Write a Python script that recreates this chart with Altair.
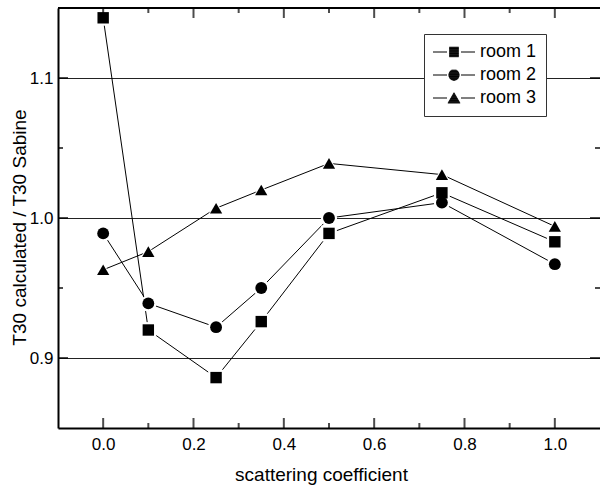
import altair as alt
import pandas as pd
import math

# ---- data ----
scattering = [0.0, 0.1, 0.25, 0.35, 0.5, 0.75, 1.0]
room1 = [1.143, 0.920, 0.886, 0.926, 0.989, 1.018, 0.983]
room2 = [0.989, 0.939, 0.922, 0.950, 1.000, 1.011, 0.967]
room3 = [0.963, 0.976, 1.007, 1.020, 1.039, 1.031, 0.994]
rooms = ["room 1", "room 2", "room 3"]

x_major = [0.0, 0.2, 0.4, 0.6, 0.8, 1.0]
x_minor = [0.1, 0.3, 0.5, 0.7, 0.9]
y_major = [0.9, 1.0, 1.1]
y_minor = [0.95, 1.05]

X_DOM = [-0.1, 1.1]
Y_DOM = [0.85, 1.15]

rows = []
for name, vals in zip(rooms, [room1, room2, room3]):
    for xv, yv in zip(scattering, vals):
        rows.append({"s": xv, "ratio": yv, "room": name})
df = pd.DataFrame(rows)

FONT = "Liberation Sans"

xscale = alt.Scale(domain=X_DOM, nice=False, zero=False)
yscale = alt.Scale(domain=Y_DOM, nice=False, zero=False)

x_enc = alt.X("s:Q", scale=xscale, axis=alt.Axis(
    values=x_major, format=".1f", grid=False, ticks=False,
    domainColor="black", domainWidth=2,
    labelFont=FONT, labelFontSize=17, labelColor="black", labelPadding=8,
    title="scattering coefficient", titleFont=FONT, titleFontSize=19,
    titleFontWeight="normal", titleColor="black",
    titleX=263, titleY=52, titleBaseline="alphabetic", titleAnchor="start", titleAlign="center"))
y_enc = alt.Y("ratio:Q", scale=yscale, axis=alt.Axis(
    values=y_major, format=".1f", grid=True, gridColor="#222222", gridWidth=1,
    ticks=False, domainColor="black", domainWidth=2,
    labelFont=FONT, labelFontSize=17, labelColor="black", labelPadding=5,
    title="T30 calculated / T30 Sabine", titleFont=FONT, titleFontSize=19,
    titleFontWeight="normal", titleColor="black",
    titleX=-39, titleY=219, titleAngle=-90, titleBaseline="middle", titleAlign="center"))

shape_scale = alt.Scale(domain=rooms, range=["square", "circle", "triangle-up"])
size_scale = alt.Scale(domain=rooms, range=[130, 150, 180])
halo_scale = alt.Scale(domain=rooms, range=[250, 280, 330])

lines = alt.Chart(df).mark_line(color="black", strokeWidth=1).encode(
    x=x_enc, y=y_enc, detail="room:N")

halo = alt.Chart(df).mark_point(filled=True, color="white", opacity=1).encode(
    x="s:Q", y="ratio:Q",
    shape=alt.Shape("room:N", scale=shape_scale, legend=None),
    size=alt.Size("room:N", scale=halo_scale, legend=None))

points = alt.Chart(df).mark_point(filled=True, color="black", opacity=1).encode(
    x="s:Q", y="ratio:Q",
    shape=alt.Shape("room:N", scale=shape_scale, legend=None),
    size=alt.Size("room:N", scale=size_scale, legend=None))

# top frame line at the top of the y domain
top_frame = alt.Chart(pd.DataFrame({"v": [Y_DOM[1]]})).mark_rule(
    color="black", strokeWidth=2).encode(y="v:Q")

# inward ticks
def xticks(vals, length, at):
    d = pd.DataFrame({"v": vals})
    off = -length / 2 if at == Y_DOM[0] else length / 2
    return alt.Chart(d).mark_tick(orient="vertical", size=length, thickness=2, color="black").encode(
        x="v:Q", y=alt.datum(at), yOffset=alt.value(off))

def yticks(vals, length, at):
    d = pd.DataFrame({"v": vals})
    off = length / 2 if at == X_DOM[0] else -length / 2
    return alt.Chart(d).mark_tick(orient="horizontal", size=length, thickness=2, color="black").encode(
        y="v:Q", x=alt.datum(at), xOffset=alt.value(off))

ticks = [
    xticks(x_major, 10, Y_DOM[0]), xticks(x_minor, 5, Y_DOM[0]),
    xticks(x_major, 10, Y_DOM[1]), xticks(x_minor, 5, Y_DOM[1]),
    yticks(y_major, 10, X_DOM[0]), yticks(y_minor, 5, X_DOM[0]),
    yticks(y_major, 10, X_DOM[1]), yticks(y_minor, 5, X_DOM[1]),
]

# legend symbols: line - marker - line, markers drawn solid with dense strokes
# (symbol unit = 7 px)
LINE = "M-3,0H-1M1,0H3"

def hatch(half_width_at, y0, y1, step=0.09):
    parts = []
    y = y0
    while y <= y1 + 1e-9:
        w = half_width_at(y)
        if w > 0.02:
            parts.append(f"M{-w:.3f},{y:.3f}H{w:.3f}")
        y += step
    return "".join(parts)

sq = hatch(lambda y: 0.68, -0.68, 0.68)
ci = hatch(lambda y: math.sqrt(max(0.0, 0.78 ** 2 - y ** 2)), -0.78, 0.78)
tr = hatch(lambda y: 0.9 * (y + 0.82) / 1.55, -0.82, 0.73)
leg_paths = [LINE + sq, LINE + ci, LINE + tr]

legend_layer = alt.Chart(df).mark_point(
    filled=False, color="black", strokeWidth=1, opacity=0
).encode(
    x="s:Q", y="ratio:Q",
    shape=alt.Shape("room:N", scale=alt.Scale(domain=rooms, range=leg_paths),
                    legend=alt.Legend(
                        title=None, orient="none", legendX=366, legendY=26,
                        symbolSize=196, symbolStrokeColor="black",
                        symbolStrokeWidth=1, symbolOpacity=1, symbolOffset=12,
                        labelFont=FONT, labelFontSize=18, labelColor="black", labelOffset=17,
                        rowPadding=5, padding=9,
                        fillColor="white", strokeColor="#333333")))

chart = alt.layer(lines, halo, points, top_frame, *ticks, legend_layer).resolve_scale(
    shape="independent", size="independent"
).properties(
    width=542, height=420,
    padding={"left": 58, "top": 8, "right": 0, "bottom": 60},
    autosize=alt.AutoSizeParams(type="none"),
    background="white",
).configure_view(stroke=None)

chart.save("out.html", embed_options={"renderer": "svg", "actions": False})
